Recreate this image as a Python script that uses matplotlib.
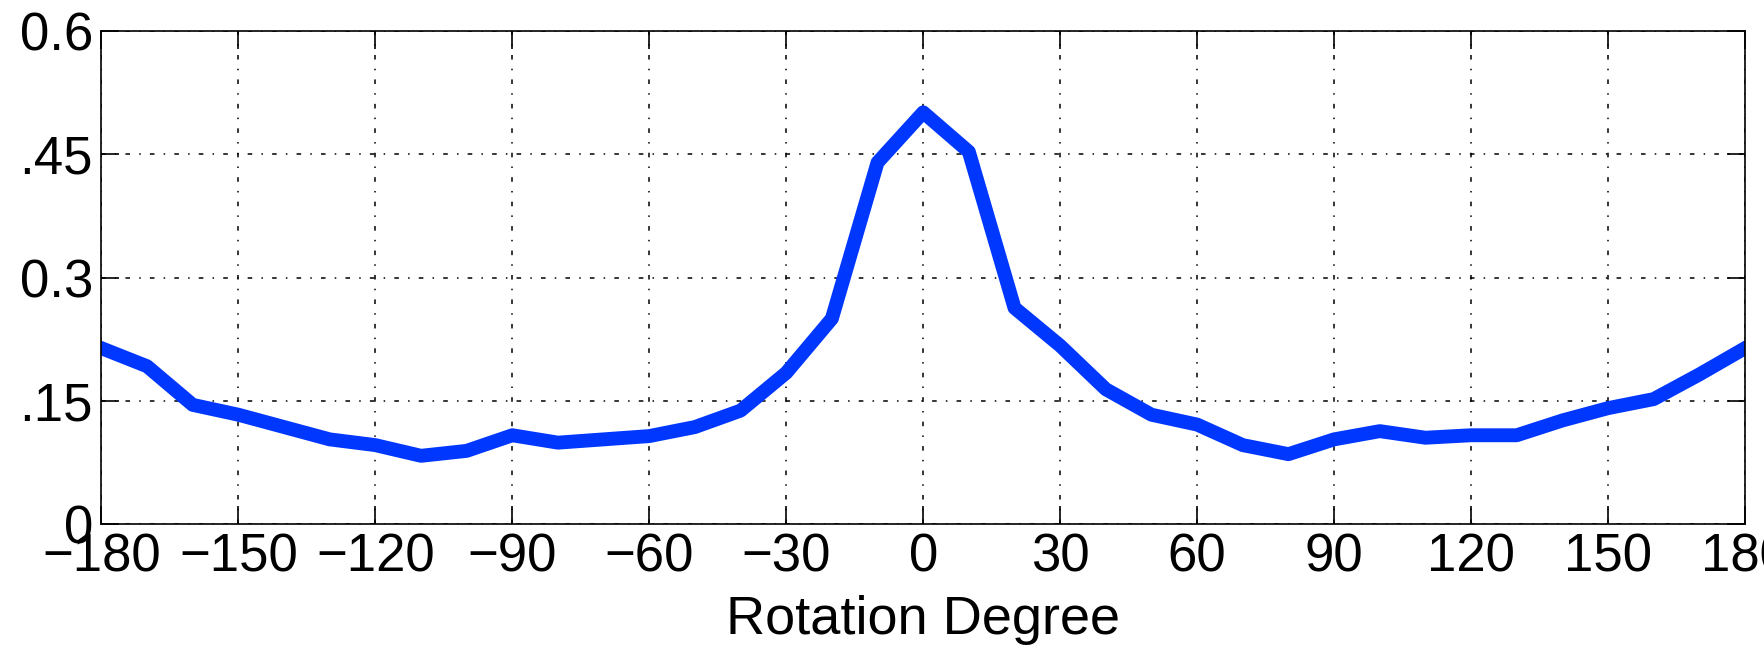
import matplotlib
matplotlib.use("Agg")
import matplotlib.pyplot as plt
import numpy as np

# Data
degrees = list(range(-180, 181, 10))
values = [0.214, 0.192, 0.145, 0.133, 0.118, 0.103, 0.096, 0.083, 0.089, 0.108,
          0.099, 0.103, 0.107, 0.118, 0.138, 0.184, 0.250, 0.440, 0.501, 0.453,
          0.263, 0.217, 0.164, 0.133, 0.121, 0.096, 0.085, 0.103, 0.113, 0.105,
          0.108, 0.108, 0.126, 0.141, 0.152, 0.182, 0.214]
xticks = [-180, -150, -120, -90, -60, -30, 0, 30, 60, 90, 120, 150, 180]
xticklabels = ["\u2212180", "\u2212150", "\u2212120", "\u221290", "\u221260", "\u221230",
               "0", "30", "60", "90", "120", "150", "180"]
yticks = [0, 0.15, 0.3, 0.45, 0.6]
yticklabels = ["0", ".15", "0.3", ".45", "0.6"]

plt.rcParams['font.family'] = ['Liberation Sans', 'DejaVu Sans']

fig = plt.figure(figsize=(17.65, 6.53), dpi=100)
ax = fig.add_axes([101.4/1765, 1 - 524/653, (1745 - 101.4)/1765, (524 - 31)/653])

ax.plot(degrees, values, color='#0037ff', linewidth=10, solid_joinstyle='round')

ax.set_xlim(-180, 180)
ax.set_ylim(0, 0.6)
ax.set_xticks(xticks)
ax.set_xticklabels(xticklabels)
ax.set_yticks(yticks)
ax.set_yticklabels(yticklabels)

ax.tick_params(axis='both', direction='in', length=13, width=1.2, labelsize=38,
               top=True, right=True, colors='black')
ax.tick_params(axis='x', pad=6)
ax.tick_params(axis='y', pad=6)

ax.grid(True, color='black', linewidth=1.1, linestyle=(0, (3, 6, 1, 6)))
for s in ax.spines.values():
    s.set_linewidth(1.2)

ax.set_xlabel("Rotation Degree", fontsize=39, labelpad=9)

fig.savefig("out.png", dpi=100)
